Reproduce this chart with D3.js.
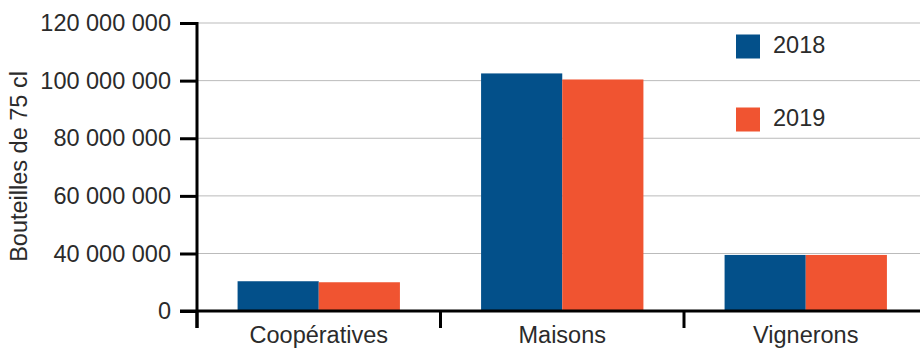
<!DOCTYPE html>
<html>
<head>
<meta charset="utf-8">
<script src="https://cdn.jsdelivr.net/npm/d3@7"></script>
<style>
  body { margin: 0; background: #fff; }
  text { font-family: "Liberation Sans", Arial, sans-serif; fill: #2b2b2b; }
</style>
</head>
<body>
<svg id="chart" width="920" height="352"></svg>
<script>
// data
const categories = ["Coopératives", "Maisons", "Vignerons"];
const years = ["2018", "2019"];
const values2018 = [20.7e6, 102.5e6, 39.0e6];
const values2019 = [20.0e6, 100.4e6, 39.0e6];
const yTicks = [0, 40e6, 60e6, 80e6, 100e6, 120e6];
const colors = ["#03508a", "#f05431"];

const svg = d3.select("#chart");

// axis origin, the bottom part (0 -> 40M) is compressed like in the original
const x0 = 197, yBase = 311;
const y = d3.scaleLinear()
    .domain([0, 40e6, 120e6])
    .range([yBase, 253.5, 23]);

const x = d3.scaleBand()
    .domain(categories)
    .range([x0, 927.5])
    .paddingInner(1 / 3)
    .paddingOuter(1 / 6);

const xSub = d3.scaleBand()
    .domain(years)
    .range([0, x.bandwidth()]);

const fmt = v => d3.format(",")(v).replace(/,/g, " ");

// gridlines
svg.append("g")
    .selectAll("line")
    .data(yTicks.filter(d => d > 0))
    .join("line")
    .attr("x1", x0).attr("x2", 920)
    .attr("y1", d => y(d)).attr("y2", d => y(d))
    .attr("stroke", "#bbb")
    .attr("stroke-width", 1);

// bars
const rows = categories.map((c, i) => ({cat: c, vals: [values2018[i], values2019[i]]}));
svg.append("g")
    .selectAll("g")
    .data(rows)
    .join("g")
    .attr("transform", d => `translate(${x(d.cat)},0)`)
    .selectAll("rect")
    .data(d => d.vals.map((v, j) => ({year: years[j], v: v, j: j})))
    .join("rect")
    .attr("x", d => xSub(d.year))
    .attr("width", xSub.bandwidth())
    .attr("y", d => y(d.v))
    .attr("height", d => yBase - y(d.v))
    .attr("fill", d => colors[d.j]);

// y axis
const yAxis = svg.append("g")
    .attr("transform", `translate(${x0},0)`)
    .call(d3.axisLeft(y).tickValues(yTicks).tickFormat(fmt).tickSize(17).tickSizeOuter(0).tickPadding(9));
yAxis.select(".domain").remove();
yAxis.selectAll(".tick line").attr("stroke", "#000").attr("stroke-width", 3);
yAxis.selectAll(".tick text")
    .style("font-family", "Liberation Sans, Arial, sans-serif")
    .style("font-size", "23.5px")
    .attr("fill", "#2b2b2b");

// x axis
svg.append("line")
    .attr("x1", 180).attr("x2", 920)
    .attr("y1", yBase).attr("y2", yBase)
    .attr("stroke", "#000").attr("stroke-width", 3);
svg.append("line")
    .attr("x1", x0).attr("x2", x0)
    .attr("y1", 22).attr("y2", 328)
    .attr("stroke", "#000").attr("stroke-width", 3);

const bounds = categories.map(c => x(c) - x.step() * x.paddingInner() / 2);
bounds.push(x(categories[2]) + x.bandwidth() + x.step() * x.paddingInner() / 2);
svg.append("g")
    .selectAll("line")
    .data(bounds)
    .join("line")
    .attr("x1", d => d).attr("x2", d => d)
    .attr("y1", yBase).attr("y2", 328)
    .attr("stroke", "#000").attr("stroke-width", 3);

svg.append("g")
    .selectAll("text")
    .data(categories)
    .join("text")
    .attr("x", d => x(d) + x.bandwidth() / 2)
    .attr("y", 343)
    .attr("text-anchor", "middle")
    .style("font-size", "23.5px")
    .text(d => d);

// y label
svg.append("text")
    .attr("transform", "translate(27,166.5) rotate(-90)")
    .attr("text-anchor", "middle")
    .style("font-size", "23.5px")
    .text("Bouteilles de 75 cl");

// legend
const legend = svg.append("g")
    .selectAll("g")
    .data(years)
    .join("g")
    .attr("transform", (d, i) => `translate(736,${34.5 + i * 73})`);
legend.append("rect")
    .attr("width", 24).attr("height", 24)
    .attr("fill", (d, i) => colors[i]);
legend.append("text")
    .attr("x", 37).attr("y", 18.5)
    .style("font-size", "23.5px")
    .text(d => d);
</script>
</body>
</html>
